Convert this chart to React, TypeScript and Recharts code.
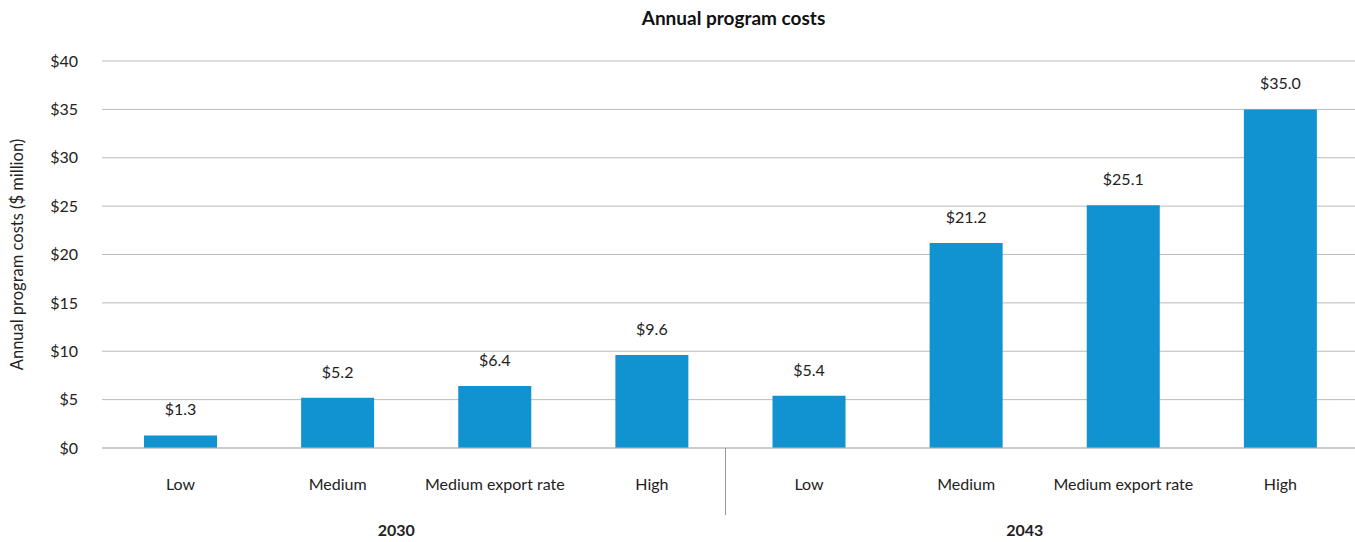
import { BarChart, Bar, XAxis, YAxis, CartesianGrid, LabelList } from "recharts";

const categories = ["Low", "Medium", "Medium export rate", "High", "Low", "Medium", "Medium export rate", "High"];
const years = ["2030", "2030", "2030", "2030", "2043", "2043", "2043", "2043"];
const costs = [1.3, 5.2, 6.4, 9.6, 5.4, 21.2, 25.1, 35.0];
const yTicks = [0, 5, 10, 15, 20, 25, 30, 35, 40];

const data = categories.map((name, i) => ({ name, year: years[i], cost: costs[i] }));

const FONT = "Lato, 'Open Sans', sans-serif";
const W = 1355;
const CHART_W = 1359;
const H = 542;
const LEFT = 102;
const BAND = (CHART_W - LEFT) / categories.length;

const CategoryTick = (props: any) => {
  const { x, y, payload, index } = props;
  return (
    <g>
      <text x={x} y={y} dy={34} textAnchor="middle" fontSize={16} fill="#222" fontFamily={FONT}>
        {payload.value}
      </text>
      {index === 4 && (
        <line x1={x - BAND / 2 - 5} x2={x - BAND / 2 - 5} y1={y - 8} y2={y + 59} stroke="#999" strokeWidth={1} />
      )}
    </g>
  );
};

const YearTick = (props: any) => {
  const { x, y, payload } = props;
  return (
    <text x={x - 20} y={y} dy={20} textAnchor="middle" fontSize={16} fontWeight={700} fill="#222" fontFamily={FONT}>
      {payload.value}
    </text>
  );
};

const App = () => {
  return (
    <div
      style={{
        position: "absolute",
        left: 0,
        top: 0,
        width: W,
        height: H,
        overflow: "hidden",
        background: "#fff",
        fontFamily: FONT,
      }}
    >
      <div
        style={{
          position: "absolute",
          top: 6,
          left: 0,
          width: W,
          textAlign: "center",
          fontSize: 19,
          fontWeight: 700,
          color: "#111",
          paddingLeft: 112,
          boxSizing: "border-box",
        }}
      >
        Annual program costs
      </div>
      <BarChart width={CHART_W} height={H} data={data} margin={{ top: 61, right: 0, bottom: 0, left: 22 }} barSize={73}>
        <CartesianGrid vertical={false} stroke="#bbb" />
        <XAxis
          dataKey="name"
          xAxisId={0}
          axisLine={{ stroke: "#bbb" }}
          tickLine={false}
          height={60}
          interval={0}
          tick={<CategoryTick />}
        />
        <XAxis
          dataKey="year"
          xAxisId="year"
          allowDuplicatedCategory={false}
          axisLine={false}
          tickLine={false}
          height={34}
          interval={0}
          tick={<YearTick />}
        />
        <YAxis
          domain={[0, 40]}
          ticks={yTicks}
          interval={0}
          width={80}
          axisLine={false}
          tickLine={false}
          tickMargin={18}
          tickFormatter={(v: number) => `$${v}`}
          tick={{ fill: "#222", fontSize: 16, fontFamily: FONT }}
          label={{
            value: "Annual program costs ($ million)",
            angle: -90,
            position: "insideLeft",
            offset: -5,
            style: { textAnchor: "middle", fontSize: 16.5, fill: "#222", fontFamily: FONT },
          }}
        />
        <Bar dataKey="cost" xAxisId={0} fill="#1192d1" isAnimationActive={false}>
          <LabelList
            dataKey="cost"
            position="top"
            offset={20}
            formatter={(v: any) => `$${Number(v).toFixed(1)}`}
            style={{ fontSize: 16, fill: "#222", fontFamily: FONT }}
          />
        </Bar>
      </BarChart>
    </div>
  );
};

export default App;
